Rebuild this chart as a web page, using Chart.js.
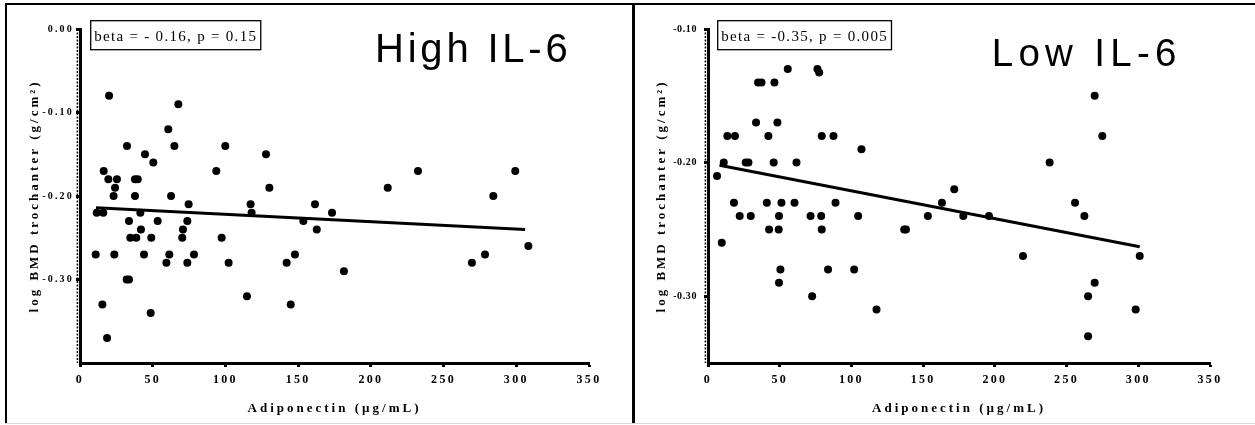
<!DOCTYPE html>
<html><head><meta charset="utf-8">
<script src="https://cdn.jsdelivr.net/npm/chart.js@4/dist/chart.umd.min.js"></script>
<style>
html,body{margin:0;padding:0;background:#fff;width:1255px;height:425px;overflow:hidden}
body{position:relative}
canvas{position:absolute;top:0}
.ln{position:absolute;background:#000;z-index:5}
</style></head><body>
<canvas id="cHigh" width="634" height="425" style="left:0;width:634px;height:425px"></canvas>
<canvas id="cLow" width="621" height="425" style="left:634px;width:621px;height:425px"></canvas>
<div class="ln" style="left:5px;top:3px;width:1250px;height:2px"></div>
<div class="ln" style="left:5px;top:3px;width:2px;height:420px"></div>
<div class="ln" style="left:632px;top:3px;width:3px;height:420px"></div>
<div class="ln" style="left:5px;top:423px;width:1250px;height:1px;background:#d8d8d8"></div>
<script>
// ---- data ----
const xTicks = [0, 50, 100, 150, 200, 250, 300, 350];
const highYTicks = [-0.30, -0.20, -0.10, 0.00];
const lowYTicks = [-0.30, -0.20, -0.10];

const highX = [20, 67.6, 60.7, 32.3, 64.9, 99.9, 44.7, 127.9, 50.4, 16.3, 93.7, 19.5, 25.4, 37.8, 39.7, 24.1, 130.2, 23.1, 37.8, 62.6, 74.7, 117.3, 11.5, 16.0, 41.5, 118, 33.7, 53.4, 73.8, 41.9, 70.8, 34.6, 38.7, 49.0, 70.3, 97.4, 10.8, 23.6, 44.0, 61.4, 78.4, 59.4, 73.8, 102.2, 32.1, 33.7, 114.8, 15.4, 48.6, 18.6, 161.6, 153.6, 162.8, 147.8, 142.1, 144.9, 173.3, 181.5, 211.6, 232.4, 269.5, 278.5, 284.2, 299.3, 308.3];
const highY = [-0.08, -0.09, -0.12, -0.14, -0.14, -0.14, -0.15, -0.15, -0.16, -0.17, -0.17, -0.18, -0.18, -0.18, -0.18, -0.19, -0.19, -0.20, -0.20, -0.20, -0.21, -0.21, -0.22, -0.22, -0.22, -0.22, -0.23, -0.23, -0.23, -0.24, -0.24, -0.25, -0.25, -0.25, -0.25, -0.25, -0.27, -0.27, -0.27, -0.27, -0.27, -0.28, -0.28, -0.28, -0.30, -0.30, -0.32, -0.33, -0.34, -0.37, -0.21, -0.23, -0.24, -0.27, -0.28, -0.33, -0.22, -0.29, -0.19, -0.17, -0.28, -0.27, -0.20, -0.17, -0.26];
const highFitX = [11, 306];
const highFitY = [-0.214, -0.240];

const lowX = [6.3, 9.6, 11, 13.5, 18.8, 18.1, 22.1, 26.3, 28.2, 29.8, 33.5, 34.9, 37.3, 41, 42.1, 42.6, 45.8, 46.3, 48.4, 49.5, 49.3, 51.2, 50.5, 49.5, 55.6, 61.7, 60.3, 71.5, 72.6, 76.3, 77.5, 79.3, 78.9, 79.3, 83.7, 87.5, 88.9, 101.9, 104.7, 107, 117.5, 136.8, 138, 153.3, 163.1, 171.7, 178, 195.9, 219.6, 238.2, 255.9, 262.4, 269.6, 274.9, 265, 269.6, 265, 298.2, 301];
const lowY = [-0.21, -0.26, -0.20, -0.18, -0.18, -0.23, -0.24, -0.20, -0.20, -0.24, -0.17, -0.14, -0.14, -0.23, -0.18, -0.25, -0.20, -0.14, -0.17, -0.24, -0.25, -0.23, -0.28, -0.29, -0.13, -0.20, -0.23, -0.24, -0.30, -0.13, -0.1325, -0.18, -0.24, -0.25, -0.28, -0.18, -0.23, -0.28, -0.24, -0.19, -0.31, -0.25, -0.25, -0.24, -0.23, -0.22, -0.24, -0.24, -0.27, -0.20, -0.23, -0.24, -0.15, -0.18, -0.30, -0.29, -0.33, -0.31, -0.27];
const lowFitX = [8, 301];
const lowFitY = [-0.202, -0.263];

const panelTitles = ['High IL-6', 'Low IL-6'];
const statTexts = ['beta = - 0.16, p = 0.15', 'beta = -0.35, p = 0.005'];
const xTitle = 'Adiponectin (µg/mL)';
const yTitle = 'log BMD trochanter (g/cm²)';

// ---- helpers ----
const toPts = (xs, ys) => xs.map((x, i) => ({x: x, y: ys[i]}));
const SERIF = '"Liberation Serif", "Times New Roman", serif';

function spacingPlugin(sp) {
  return {
    id: 'spacing',
    beforeDraw(chart) {
      Object.values(chart.scales).forEach(s => {
        if (s._spPatched) return;
        const cfg = sp[s.axis];
        const dl = s.drawLabels, dt = s.drawTitle;
        s.drawLabels = function () { const c = this.ctx; c.letterSpacing = cfg.ticks; dl.apply(this, arguments); c.letterSpacing = '0px'; };
        s.drawTitle = function () { const c = this.ctx; c.letterSpacing = cfg.title; dt.apply(this, arguments); c.letterSpacing = '0px'; };
        s._spPatched = true;
      });
    },
    afterDraw(chart) { chart.ctx.letterSpacing = '0px'; }
  };
}

function annotPlugin(a) {
  return {
    id: 'annot',
    afterDatasetsDraw(chart) {
      const ctx = chart.ctx, ca = chart.chartArea;
      ctx.save();
      // minor dashed fringe on y axis
      ctx.strokeStyle = '#000'; ctx.lineWidth = 1.5; ctx.setLineDash([2, 1.5]);
      ctx.beginPath(); ctx.moveTo(ca.left - 2.6, ca.top); ctx.lineTo(ca.left - 2.6, ca.bottom); ctx.stroke();
      ctx.setLineDash([]);
      // stat box
      ctx.font = '15px ' + SERIF;
      ctx.letterSpacing = a.statSpacing;
      const w = ctx.measureText(a.stat).width;
      const bx = ca.left + a.boxDx, by = ca.top + a.boxDy;
      ctx.fillStyle = '#fff'; ctx.fillRect(bx, by, w + 7, a.boxH);
      ctx.lineWidth = 1.3; ctx.strokeStyle = '#000'; ctx.strokeRect(bx, by, w + 7, a.boxH);
      ctx.fillStyle = '#000'; ctx.textAlign = 'left'; ctx.textBaseline = 'alphabetic';
      ctx.fillText(a.stat, bx + 3.5, by + 20.5);
      // panel title
      ctx.font = a.titleSize + 'px "Liberation Sans", Arial, sans-serif';
      ctx.letterSpacing = a.titleSpacing;
      ctx.fillText(a.title, ca.left + a.titleDx, a.titleBase);
      ctx.restore();
    }
  };
}

function makeChart(id, o) {
  const ctx = document.getElementById(id);
  return new Chart(ctx, {
    type: 'scatter',
    data: {
      datasets: [
        {data: toPts(o.xs, o.ys), backgroundColor: '#000', borderWidth: 0, pointRadius: 4, pointHoverRadius: 4, order: 2},
        {type: 'line', data: toPts(o.fx, o.fy), borderColor: '#000', borderWidth: 3, pointRadius: 0, fill: false, showLine: true, order: 1}
      ]
    },
    options: {
      responsive: false, animation: false, devicePixelRatio: 1,
      layout: {padding: {left: 0, top: 29, right: 45, bottom: 0}},
      plugins: {legend: {display: false}, tooltip: {enabled: false}},
      scales: {
        x: {
          type: 'linear', min: 0, max: 350,
          afterBuildTicks: s => { s.ticks = xTicks.map(v => ({value: v})); },
          afterFit: s => { s.height = 62; },
          border: {display: true, color: '#000', width: 3},
          grid: {drawOnChartArea: false, drawTicks: true, tickLength: 4, tickWidth: 3, tickColor: '#000', color: '#000'},
          ticks: {color: '#000', padding: 6, font: {family: SERIF, size: 12, weight: 'bold'}, callback: v => String(v), maxRotation: 0},
          title: {display: true, text: xTitle, color: '#000', font: {family: SERIF, size: 13, weight: 'bold'}, padding: {top: 0, bottom: 9}}
        },
        y: {
          type: 'linear', min: o.ymin, max: o.ymax,
          afterBuildTicks: s => { s.ticks = o.yticks.map(v => ({value: v})); },
          afterFit: s => { s.width = o.yw; },
          border: {display: true, color: '#000', width: 3},
          grid: {drawOnChartArea: false, drawTicks: true, tickLength: 4, tickWidth: 3, tickColor: '#000', color: '#000'},
          ticks: {color: '#000', padding: o.ypad, font: {family: SERIF, size: o.ytSize, weight: 'bold'}, callback: v => v.toFixed(2)},
          title: {display: true, text: yTitle, color: '#000', font: {family: SERIF, size: 13, weight: 'bold'}, padding: {top: o.ytitlePad, bottom: 0}}
        }
      }
    },
    plugins: [spacingPlugin(o.spacing), annotPlugin(o.annot)]
  });
}

makeChart('cHigh', {
  xs: highX, ys: highY, fx: highFitX, fy: highFitY,
  ymin: -0.40, ymax: 0.00, yticks: highYTicks, yw: 80, ypad: 2, ytSize: 10, ytitlePad: 27,
  spacing: {x: {ticks: '2.3px', title: '3px'}, y: {ticks: '2.2px', title: '3px'}},
  annot: {stat: statTexts[0], statSpacing: '1.3px', boxDx: 10.7, boxDy: -8.3, boxH: 29,
          title: panelTitles[0], titleSize: 40, titleSpacing: '3.8px', titleDx: 295, titleBase: 62.3}
});

makeChart('cLow', {
  xs: lowX, ys: lowY, fx: lowFitX, fy: lowFitY,
  ymin: -0.35, ymax: -0.10, yticks: lowYTicks, yw: 74, ypad: 7, ytSize: 10, ytitlePad: 20,
  spacing: {x: {ticks: '2.3px', title: '3px'}, y: {ticks: '0.6px', title: '3px'}},
  annot: {stat: statTexts[1], statSpacing: '1.3px', boxDx: 9.7, boxDy: -8.3, boxH: 29,
          title: panelTitles[1], titleSize: 38.5, titleSpacing: '5.3px', titleDx: 283.7, titleBase: 66}
});
</script>
</body></html>
